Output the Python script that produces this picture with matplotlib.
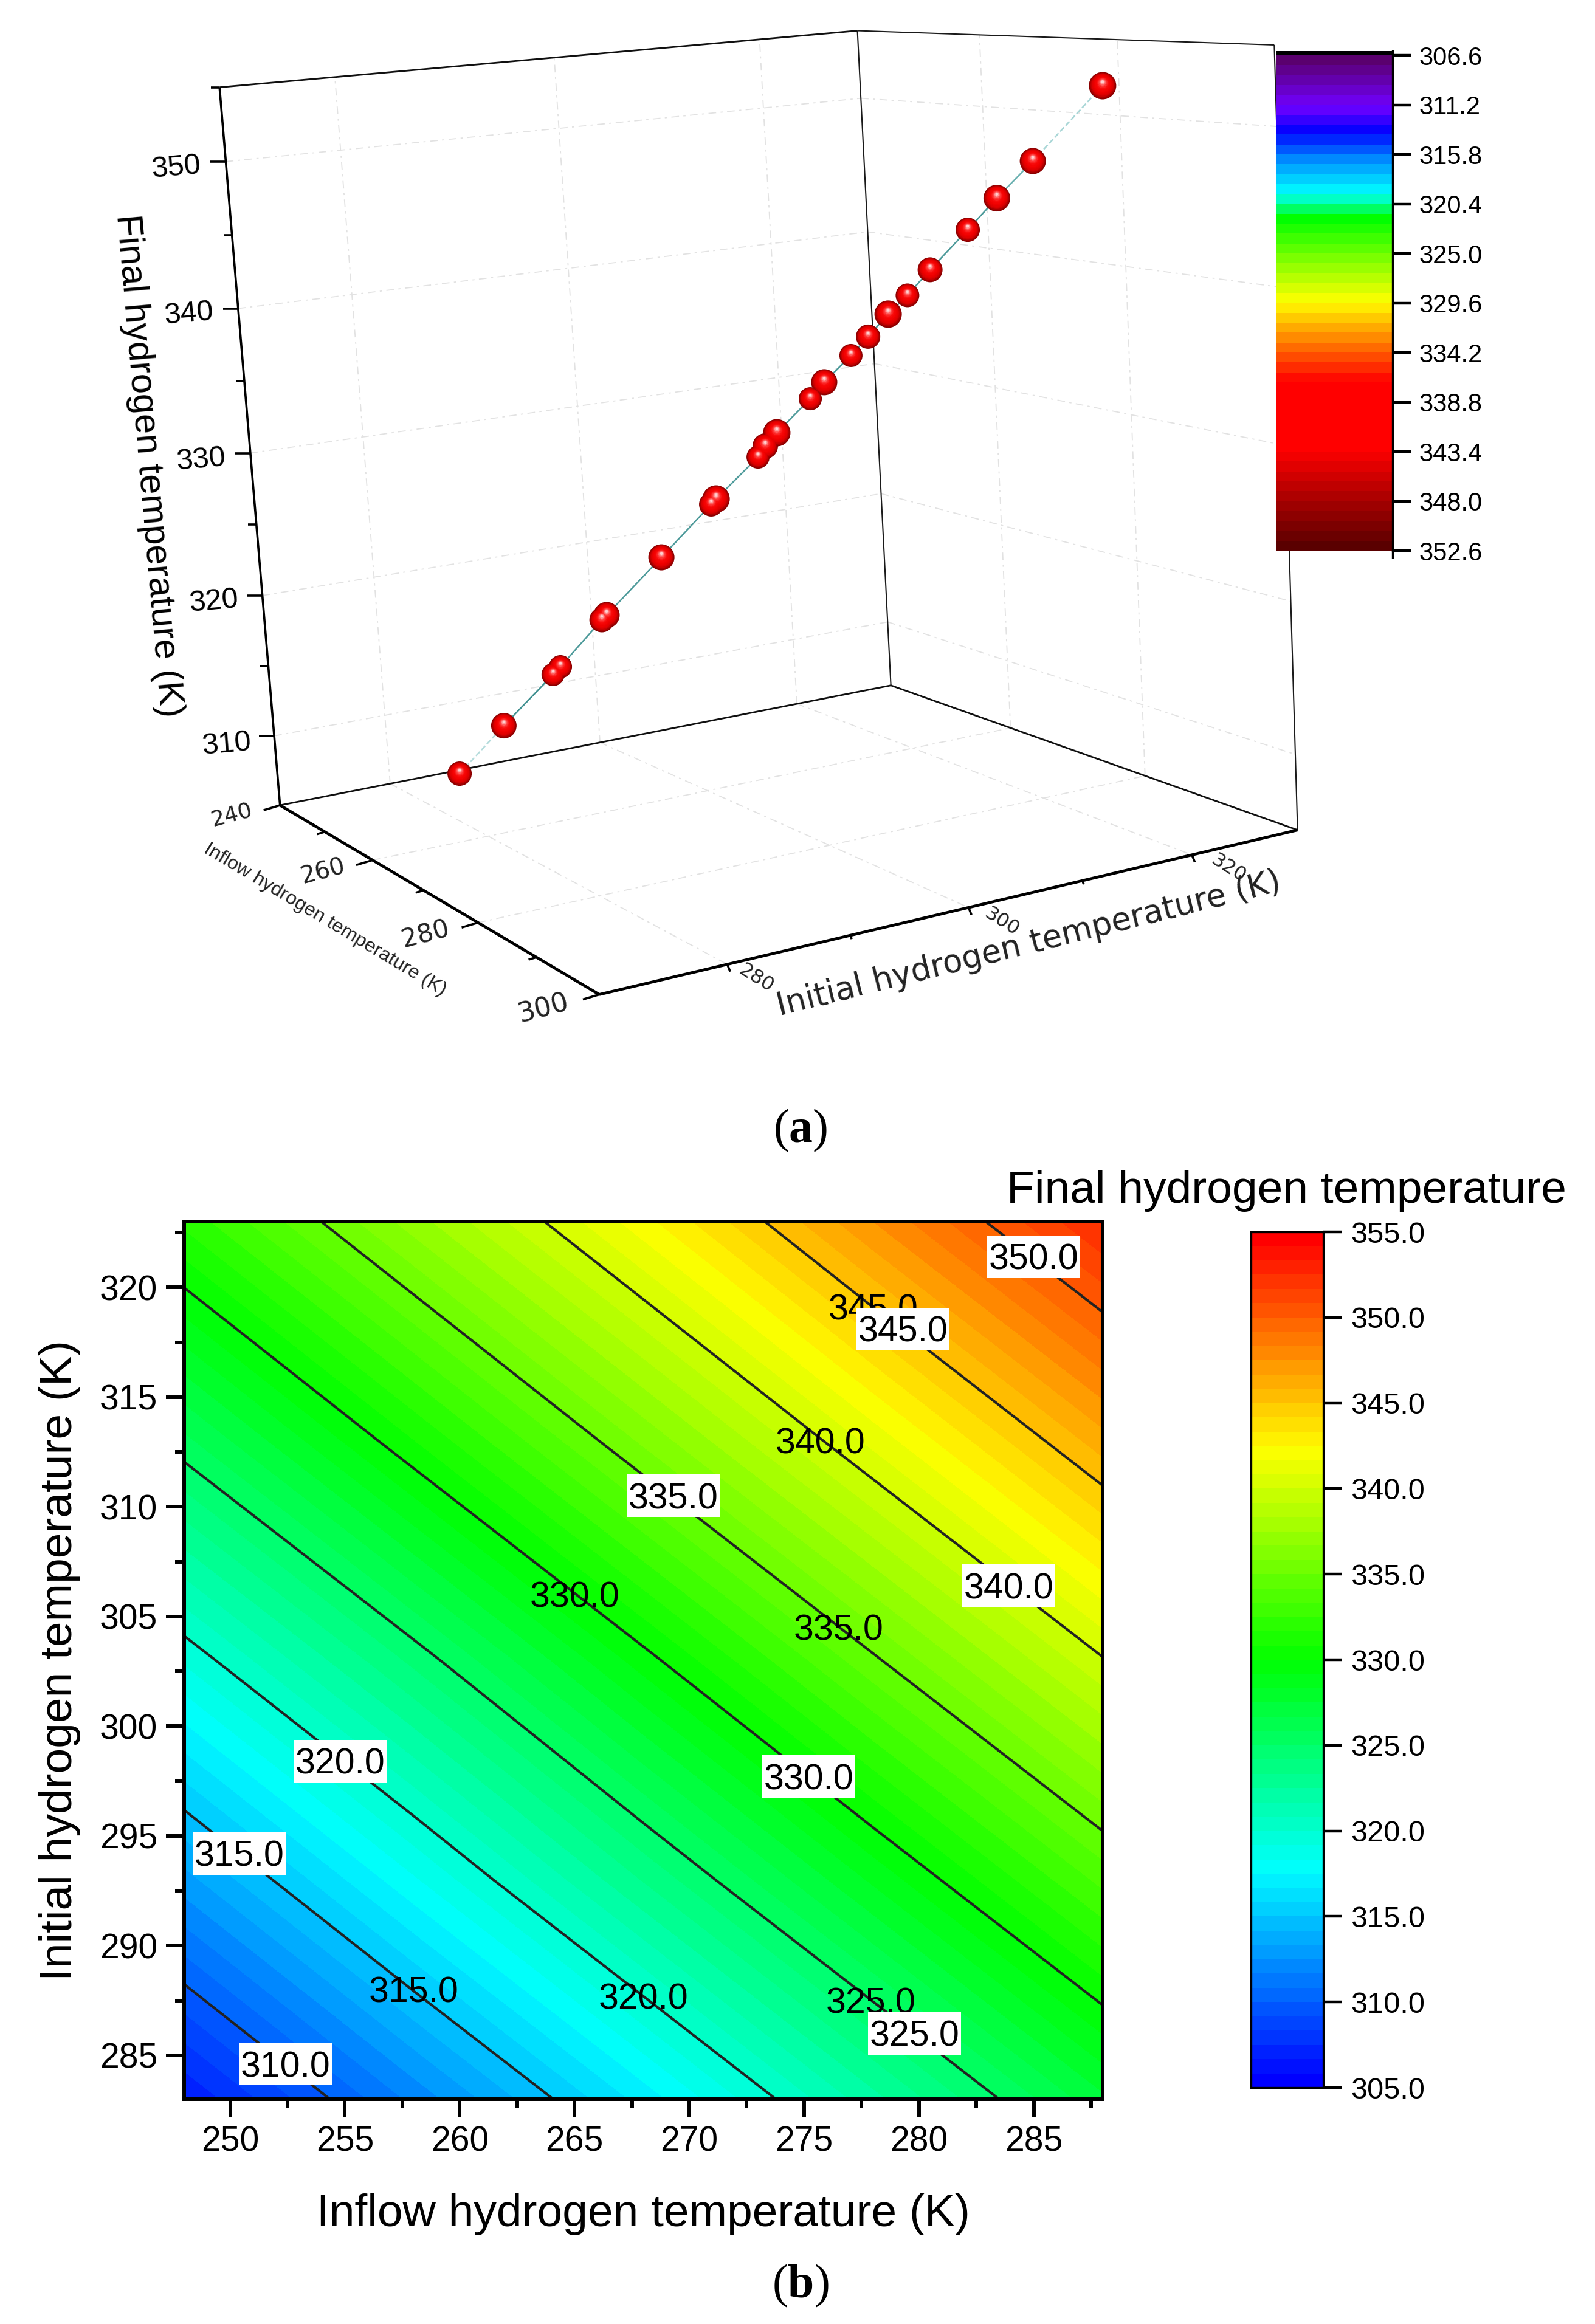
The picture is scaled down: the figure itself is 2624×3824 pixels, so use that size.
import numpy as np
import matplotlib
matplotlib.use('Agg')
import matplotlib.pyplot as plt
from matplotlib.colors import LinearSegmentedColormap, ListedColormap, BoundaryNorm
from matplotlib.patches import Rectangle

W, H = 2624, 3824
plt.rcParams['font.family'] = ['Liberation Sans', 'DejaVu Sans']
plt.rcParams['mathtext.fontset'] = 'custom'
plt.rcParams['mathtext.bf'] = 'Liberation Serif:bold'
plt.rcParams['mathtext.rm'] = 'Liberation Serif'

# panel a data
inflow_t = [248.03, 251.03, 254.31, 254.80, 257.53, 257.84, 261.38, 264.55, 264.86, 267.48, 267.94, 268.66,
            270.72, 271.58, 273.20, 274.24, 275.45, 276.60, 277.95, 280.17, 281.87, 283.95, 287.93]
initial_t = [283.03, 286.03, 289.31, 289.80, 292.53, 292.84, 296.38, 299.55, 299.86, 302.48, 302.94, 303.66,
             305.72, 306.58, 308.20, 309.24, 310.45, 311.60, 312.95, 315.17, 316.87, 318.95, 322.93]
final_t = [306.70, 310.20, 313.88, 314.44, 317.75, 318.09, 322.11, 325.74, 326.11, 328.94, 329.68, 330.57,
           332.83, 333.92, 335.67, 336.90, 338.36, 339.57, 341.21, 343.75, 345.74, 348.05, 352.68]
sphere_px = [40, 42, 38, 38, 41, 43, 43, 40, 45, 38, 42, 45, 38, 43, 38, 40, 45, 39, 41, 40, 44, 43, 45]

z_major = [310, 320, 330, 340, 350]
z_minor = [315, 325, 335, 345, 355]
inflow_major = [240, 260, 280, 300]
inflow_minor = [250, 270, 290]
initial_major = [280, 300, 320]
initial_minor = [290, 310]
bar_ticks = [306.6, 311.2, 315.8, 320.4, 325.0, 329.6, 334.2, 338.8, 343.4, 348.0, 352.6]

# panel b data
field_x = [248, 258, 268, 278, 288]
field_y = [283, 293, 303, 313, 323]
field_z = [[306.7, 311.9, 317.0, 322.2, 327.3],
           [313.0, 318.2, 323.4, 328.5, 333.6],
           [319.3, 324.4, 329.6, 334.8, 339.9],
           [325.6, 330.8, 336.0, 341.1, 346.3],
           [331.9, 337.1, 342.2, 347.5, 352.6]]
line_levels = [310, 315, 320, 325, 330, 335, 340, 345, 350]
labels = [('345.0', 278.0, 319.1, False), ('350.0', 285.0, 321.4, True), ('345.0', 279.3, 318.1, True),
          ('340.0', 275.7, 313.0, False), ('335.0', 269.3, 310.5, True), ('340.0', 283.9, 306.4, True),
          ('330.0', 265.0, 306.0, False), ('335.0', 276.5, 304.5, False), ('320.0', 254.8, 298.4, True),
          ('330.0', 275.2, 297.7, True), ('315.0', 250.4, 294.2, True), ('315.0', 258.0, 288.0, False),
          ('320.0', 268.0, 287.7, False), ('325.0', 277.9, 287.5, False), ('325.0', 279.8, 286.0, True),
          ('310.0', 252.4, 284.6, True)]

# where the box corners of panel a sit on the page
corner_data = [(240, 270, 355), (240, 330, 355), (300, 330, 355),
               (240, 270, 305), (240, 330, 305), (300, 330, 305), (300, 270, 305)]
corner_px = [(361, 144), (1411, 51), (2096, 73), (460, 1325), (1466, 1127), (2134, 1367), (987, 1636)]


def norm(x, y, z):
    return (x - 240) / 60, (y - 270) / 60, (z - 305) / 50


# camera of the 3D box, fitted on the corners
rows = []
for (x, y, z), (u, v) in zip(corner_data, corner_px):
    a, b, c = norm(x, y, z)
    u, v = u / 1000, v / 1000
    rows.append([a, b, c, 1, 0, 0, 0, 0, -u * a, -u * b, -u * c, -u])
    rows.append([0, 0, 0, 0, a, b, c, 1, -v * a, -v * b, -v * c, -v])
P = np.linalg.svd(np.array(rows))[2][-1].reshape(3, 4)


def project(x, y, z):
    a, b, c = norm(np.asarray(x, float), np.asarray(y, float), np.asarray(z, float))
    q = P @ np.array([a, b, c, np.ones_like(a)])
    return q[0] / q[2] * 1000, q[1] / q[2] * 1000


def rect(x0, y0, x1, y1):
    return [x0 / W, 1 - y1 / H, (x1 - x0) / W, (y1 - y0) / H]


fig = plt.figure(figsize=(W / 100, H / 100), dpi=100)
ax = fig.add_axes([0, 0, 1, 1])
ax.set_xlim(0, W)
ax.set_ylim(H, 0)
ax.axis('off')


def edge(p, q, **kw):
    u, v = project(*zip(p, q))
    ax.plot(u, v, solid_capstyle='butt', **kw)


grid_kw = dict(color='#e2e2e2', lw=1.3, ls=(0, (7, 4, 2, 4)), zorder=1)
for z in z_major:
    edge((240, 270, z), (240, 330, z), **grid_kw)
    edge((240, 330, z), (300, 330, z), **grid_kw)
for y in initial_major:
    edge((240, y, 305), (240, y, 355), **grid_kw)
    edge((240, y, 305), (300, y, 305), **grid_kw)
for x in [260, 280]:
    edge((x, 330, 305), (x, 330, 355), **grid_kw)
    edge((x, 270, 305), (x, 330, 305), **grid_kw)

thin = dict(color='#1a1a1a', lw=1.5, zorder=2)
edge((240, 330, 355), (240, 330, 305), **thin)
edge((300, 330, 355), (300, 330, 305), **thin)
edge((240, 330, 355), (300, 330, 355), **thin)
dark = dict(color='#101010', lw=2.0, zorder=2)
edge((240, 270, 355), (240, 330, 355), **dark)
edge((240, 270, 305), (240, 330, 305), **dark)
edge((240, 330, 305), (300, 330, 305), **dark)
edge((240, 270, 305), (240, 270, 355), color='k', lw=2.6, zorder=3)
edge((240, 270, 305), (300, 270, 305), color='k', lw=3.4, zorder=3)
edge((300, 270, 305), (300, 330, 305), color='k', lw=3.4, zorder=3)

# ticks of panel a
for z in z_major + z_minor:
    u, v = project(240, 270, z)
    L = 25 if z in z_major else 14
    ax.plot([u - L, u], [v, v], color='k', lw=2.6, solid_capstyle='butt', zorder=3)
for z, lx, ly in zip(z_major, [372, 351, 330, 310, 289], [1225, 990, 757, 517, 276]):
    ax.text(lx, ly, str(z), fontsize=35, rotation=5, ha='center', va='center')

for x in inflow_major + inflow_minor:
    u, v = project(x, 270, 305)
    L = 27 if x in inflow_major else 13
    ax.plot([u - L, u], [v + L * 0.3, v], color='k', lw=2.6, solid_capstyle='butt', zorder=3)
for t, lx, ly, fs in zip(inflow_major, [381, 531, 700, 894], [1341, 1434, 1538, 1659], [26, 28, 30, 32]):
    ax.text(lx, ly, str(t), fontsize=fs, rotation=15, ha='center', va='center', family='DejaVu Sans', color='#222222')

for y in initial_major + initial_minor:
    u, v = project(300, y, 305)
    L = 12 if y in initial_major else 6
    ax.plot([u, u + L * 0.4], [v, v + L], color='k', lw=2.6, solid_capstyle='butt', zorder=3)
for t, lx, ly in zip(initial_major, [1244, 1648, 2021], [1610, 1517, 1429]):
    ax.text(lx, ly, str(t), fontsize=23, rotation=-32, ha='center', va='center', family='DejaVu Sans', color='#222222')

ax.text(244, 766, 'Final hydrogen temperature (K)', fontsize=43, rotation=-85, ha='center', va='center', rotation_mode='anchor')
ax.text(535, 1513, 'Inflow hydrogen temperature (K)', fontsize=23, rotation=-31, ha='center', va='center', rotation_mode='anchor', color='#222222')
ax.text(1693, 1554, 'Initial hydrogen temperature (K)', fontsize=38, rotation=14, ha='center', va='center', rotation_mode='anchor', family='DejaVu Sans', color='#222222')

# curve and spheres
u, v = project(inflow_t, initial_t, final_t)
seg_col = ['#b5dcdc', '#3f8f8f'] + ['#4d9a9a'] * 18 + ['#6db2b2', '#a8d6d6']
seg_ls = ['--', '-'] + ['-'] * 19 + ['--']
for i in range(len(u) - 1):
    ax.plot(u[i:i + 2], v[i:i + 2], color=seg_col[i], ls=seg_ls[i], lw=1.8, zorder=4)

sizes = np.array(sphere_px, float)
shade = LinearSegmentedColormap.from_list('sphere', ['#8a0000', '#d80000', '#f00000', '#f80808', '#ff4040', '#ffd0d0'])
for i, f in enumerate(np.linspace(1, 0.1, 14)):
    ax.scatter(u, v - (1 - f) * sizes * 0.16, s=(sizes * f * 0.72) ** 2, color=shade(i / 13), lw=0, zorder=5 + i * 0.01)

# colour bar of panel a
bar_stops = [(0.0, '#5a006e'), (0.095, '#7000ff'), (0.147, '#0000ff'), (0.207, '#0090ff'), (0.274, '#00ffff'), (0.326, '#00ff00'),
             (0.497, '#ffff00'), (0.66, '#ff0000'), (0.80, '#ff0000'), (1.0, '#5a0000')]
bar_map = LinearSegmentedColormap.from_list('bar', bar_stops, N=50)
cax = fig.add_axes(rect(2100, 84, 2291, 906), zorder=6)
cax.set_facecolor('k')
vals = np.linspace(bar_ticks[0], bar_ticks[-1], 51)
cax.pcolormesh([0, 1], vals, ((vals[:-1] + vals[1:]) / 2).reshape(-1, 1), cmap=bar_map, vmin=bar_ticks[0], vmax=bar_ticks[-1])
cax.set_ylim(352.6, 306.2)
cax.set_xlim(0, 1)
cax.set_xticks([])
cax.yaxis.tick_right()
cax.set_yticks(bar_ticks)
cax.set_yticklabels([f'{t:.1f}' for t in bar_ticks])
cax.tick_params(axis='y', length=22, width=3.2, labelsize=30, pad=9)
for s in ['left', 'top', 'bottom']:
    cax.spines[s].set_visible(False)
cax.spines['right'].set_linewidth(2.4)
ax.plot([2291, 2291], [906, 917], color='k', lw=2.4, zorder=7)

# panel b
fill_levels = np.linspace(305, 355, 61)
rainbow = LinearSegmentedColormap.from_list('rb', ['#0000ff', '#00ffff', '#00ff00', '#ffff00', '#ff0000'])
fill_colors = ListedColormap([rainbow(i / 59) for i in range(60)])
fill_norm = BoundaryNorm(fill_levels, 60)

bx = fig.add_axes(rect(303, 2010, 1814, 3454), zorder=2)
bx.contourf(field_x, field_y, field_z, levels=fill_levels, cmap=fill_colors, norm=fill_norm)
bx.contour(field_x, field_y, field_z, levels=line_levels, colors='#222222', linewidths=3.0)
for txt, x, y, boxed in labels:
    if boxed:
        bx.add_patch(Rectangle((x - 2.03, y - 0.97), 4.06, 1.94, fc='white', ec='none', zorder=6))
    bx.text(x, y - 0.58, txt, fontsize=42.5, ha='center', va='baseline', zorder=7 if boxed else 5)
bx.set_xlim(248, 288)
bx.set_ylim(283, 323)
bx.set_xticks(range(250, 290, 5))
bx.set_yticks(range(285, 325, 5))
bx.set_xticks(np.arange(252.5, 288, 5), minor=True)
bx.set_yticks(np.arange(287.5, 323, 5), minor=True)
bx.tick_params(axis='both', which='major', length=21.6, width=4.3, labelsize=41, pad=10)
bx.tick_params(axis='both', which='minor', length=10.8, width=4.3)
for s in bx.spines.values():
    s.set_linewidth(4.3)
fig.text(1058 / W, 1 - 3663 / H, 'Inflow hydrogen temperature (K)', fontsize=54, ha='center', va='baseline')
fig.text(118 / W, 1 - 2732 / H, 'Initial hydrogen temperature (K)', fontsize=54, rotation=90, ha='center', va='baseline', rotation_mode='anchor')

ex = fig.add_axes(rect(2058, 2027, 2177, 3435), zorder=2)
ex.pcolormesh([0, 1], fill_levels, ((fill_levels[:-1] + fill_levels[1:]) / 2).reshape(-1, 1), cmap=fill_colors, norm=fill_norm)
ex.set_xticks([])
ex.yaxis.tick_right()
ex.set_yticks(range(305, 360, 5))
ex.set_yticklabels([f'{t:.1f}' for t in range(305, 360, 5)])
ex.tick_params(axis='y', length=21.6, width=3.2, labelsize=35, pad=11)
for s in ex.spines.values():
    s.set_linewidth(2.4)
fig.text(2116 / W, 1 - 1959 / H, 'Final hydrogen temperature', fontsize=54, ha='center', va='center')

fig.text(1317 / W, 1 - 1860 / H, r'($\mathbf{a}$)', fontsize=56, family='Liberation Serif', ha='center', va='center')
fig.text(1317 / W, 1 - 3761 / H, r'($\mathbf{b}$)', fontsize=56, family='Liberation Serif', ha='center', va='center')

fig.savefig('out.png', dpi=100)
